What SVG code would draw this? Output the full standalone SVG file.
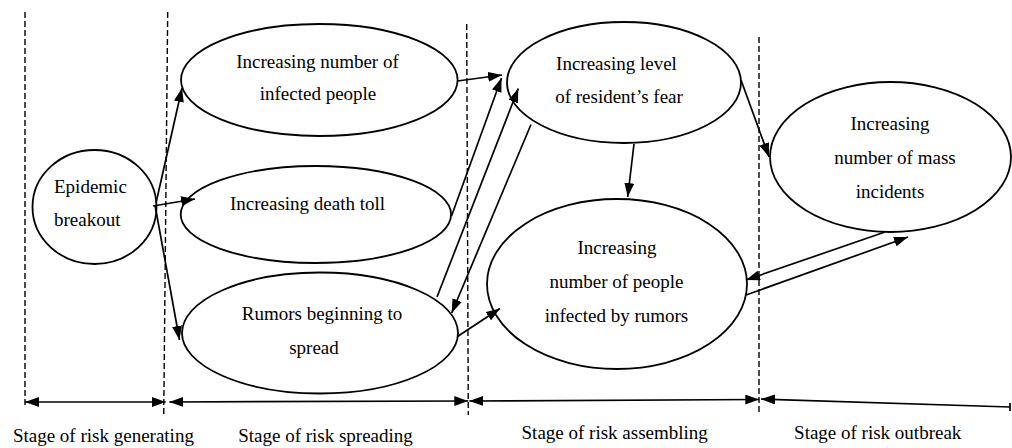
<svg xmlns="http://www.w3.org/2000/svg" width="1012" height="448" viewBox="0 0 1012 448">
<style>
.node ellipse{fill:#fff;stroke:#000;stroke-width:1.8}
text{font-family:"Liberation Serif","Times New Roman",serif;font-size:19px;fill:#000}
.c{text-anchor:middle}
.conn line{stroke:#000;stroke-width:1.7}
.dash line{stroke:#000;stroke-width:1.4;stroke-dasharray:6,3}
</style>
<defs>
<marker id="ah" markerWidth="14" markerHeight="10" refX="14" refY="5" orient="auto-start-reverse" markerUnits="userSpaceOnUse">
<path d="M0,0 L14,5 L0,10 z" fill="#000"/>
</marker>
</defs>
<rect width="1012" height="448" fill="#fff"/>
<g id="stage-dividers" class="dash">
<line x1="25" y1="12" x2="25" y2="405"/>
<line x1="167.7" y1="12" x2="163.7" y2="417"/>
<line x1="466.7" y1="24" x2="468.3" y2="415"/>
<line x1="759" y1="37" x2="759" y2="415"/>
</g>
<g id="n-epidemic" class="node">
<ellipse cx="94.5" cy="207" rx="62" ry="57"/>
<text x="54" y="193">Epidemic</text>
<text x="54" y="226">breakout</text>
</g>
<g id="n-infected" class="node">
<ellipse cx="319.3" cy="80" rx="138.3" ry="56"/>
<text class="c" x="317.5" y="67.5">Increasing number of</text>
<text class="c" x="318" y="100">infected people</text>
</g>
<g id="n-death" class="node">
<ellipse cx="315.9" cy="214.5" rx="135.2" ry="48.5"/>
<text class="c" x="307.5" y="210">Increasing death toll</text>
</g>
<g id="n-rumors" class="node">
<ellipse cx="320" cy="333" rx="138" ry="60.5"/>
<text class="c" x="322" y="320">Rumors beginning to</text>
<text class="c" x="314" y="354">spread</text>
</g>
<g id="n-fear" class="node">
<ellipse cx="624" cy="82.5" rx="117" ry="60.5"/>
<text class="c" x="616.5" y="70">Increasing level</text>
<text class="c" x="619" y="103">of resident’s fear</text>
</g>
<g id="n-infected-rumors" class="node">
<ellipse cx="617" cy="284" rx="130" ry="85"/>
<text class="c" x="617" y="254">Increasing</text>
<text class="c" x="616.5" y="288">number of people</text>
<text class="c" x="616.5" y="322">infected by rumors</text>
</g>
<g id="n-mass" class="node">
<ellipse cx="890.5" cy="157" rx="120.5" ry="75"/>
<text class="c" x="890" y="130">Increasing</text>
<text class="c" x="895" y="164">number of mass</text>
<text class="c" x="890" y="198">incidents</text>
</g>
<g id="connectors" class="conn">
<line x1="156" y1="203" x2="182" y2="88" marker-end="url(#ah)"/>
<line x1="153" y1="206" x2="195" y2="199" marker-end="url(#ah)"/>
<line x1="155" y1="205" x2="179.5" y2="340" marker-end="url(#ah)"/>
<line x1="457.5" y1="81" x2="502" y2="75" marker-end="url(#ah)"/>
<line x1="451.5" y1="216" x2="501.5" y2="78" marker-end="url(#ah)"/>
<line x1="437" y1="297" x2="518.3" y2="88.5" marker-end="url(#ah)"/>
<line x1="531" y1="124.5" x2="451.7" y2="313" marker-end="url(#ah)"/>
<line x1="634" y1="144" x2="627.7" y2="197" marker-end="url(#ah)"/>
<line x1="457.5" y1="336.5" x2="500" y2="308.5" marker-end="url(#ah)"/>
<line x1="741" y1="80" x2="769" y2="157" marker-end="url(#ah)"/>
<line x1="885" y1="232" x2="746" y2="280" marker-end="url(#ah)"/>
<line x1="746" y1="295" x2="908" y2="237" marker-end="url(#ah)"/>
</g>
<g id="stage-spans" class="conn">
<line x1="25" y1="402" x2="165.7" y2="402" marker-start="url(#ah)" marker-end="url(#ah)"/>
<line x1="169.3" y1="402" x2="468.3" y2="401" marker-start="url(#ah)" marker-end="url(#ah)"/>
<line x1="469.3" y1="401" x2="759.3" y2="399.5" marker-start="url(#ah)" marker-end="url(#ah)"/>
<line x1="761" y1="399" x2="1010" y2="407" marker-start="url(#ah)"/>
<line x1="1010" y1="403" x2="1010" y2="411"/>
</g>
<g id="stage-labels">
<text class="c" x="103.4" y="442">Stage of risk generating</text>
<text class="c" x="325.5" y="442">Stage of risk spreading</text>
<text class="c" x="614.7" y="439">Stage of risk assembling</text>
<text class="c" x="877.7" y="439">Stage of risk outbreak</text>
</g>
</svg>
